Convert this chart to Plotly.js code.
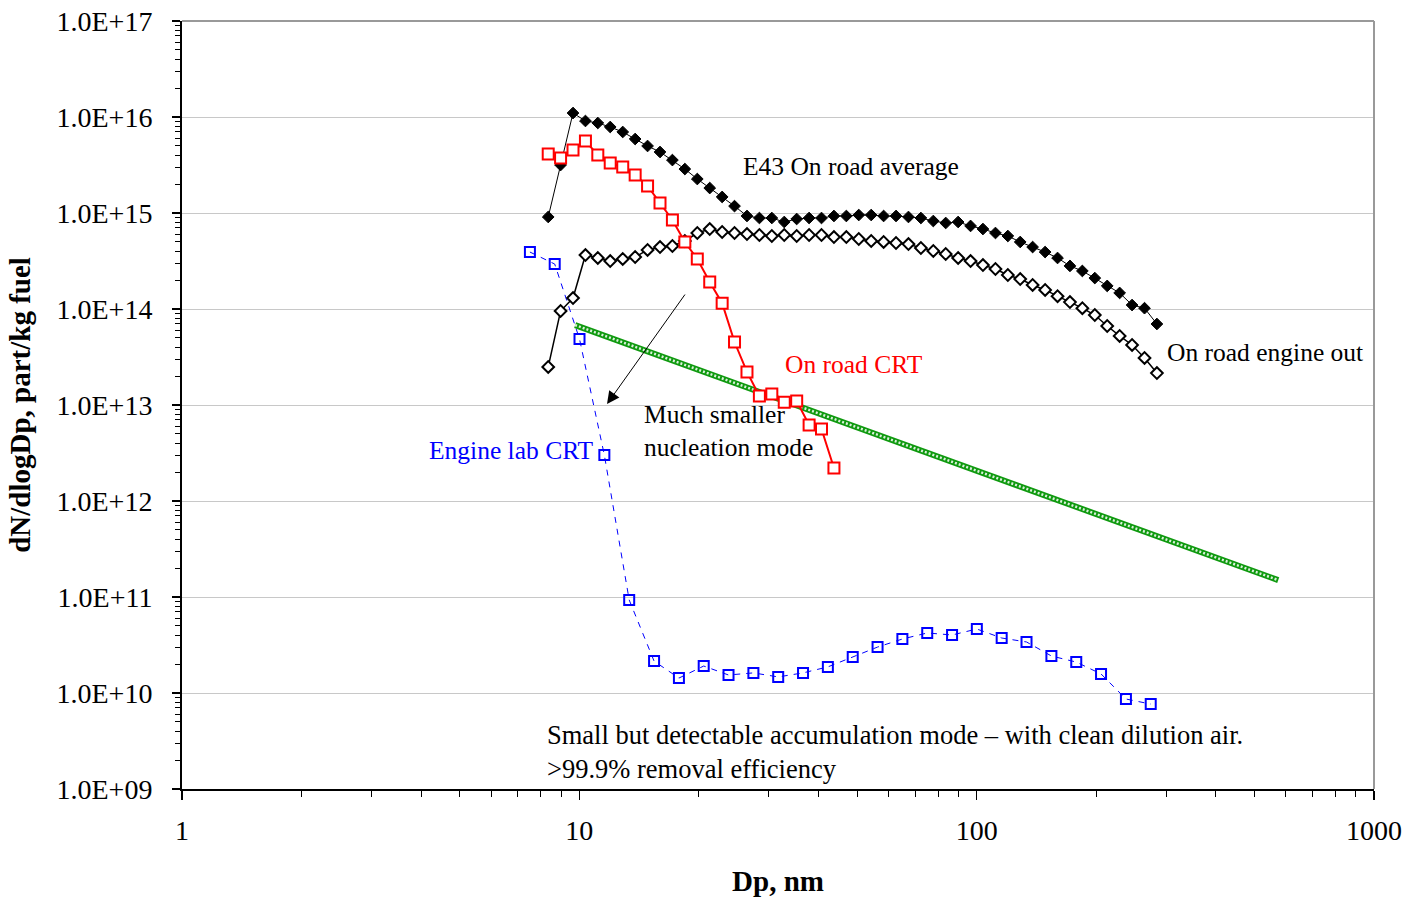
<!DOCTYPE html>
<html>
<head>
<meta charset="utf-8">
<script src="https://cdn.plot.ly/plotly-3.0.1.min.js"></script>
<style>html,body{margin:0;padding:0;background:#fff;}#chart{width:1410px;height:899px;}</style>
</head>
<body>
<div id="chart"></div>
<script>
// ---- Data ----
var dpRoad = [8.35, 8.97, 9.64, 10.36, 11.13, 11.96, 12.86, 13.82, 14.85, 15.96,
  17.15, 18.43, 19.81, 21.29, 22.88, 24.58, 26.42, 28.39, 30.51, 32.79,
  35.24, 37.87, 40.69, 43.73, 46.99, 50.5, 54.27, 58.32, 62.67, 67.35,
  72.38, 77.78, 83.58, 89.82, 96.53, 103.7, 111.5, 119.8, 128.7, 138.3,
  148.7, 159.8, 171.7, 184.5, 198.3, 213.1, 229.0, 246.1, 264.5, 284.2];

var e43Avg = [9.09e14, 3.16e15, 1.10e16, 9.09e15, 8.66e15, 7.87e15, 6.98e15, 5.90e15, 4.99e15, 4.32e15,
  3.56e15, 2.87e15, 2.26e15, 1.82e15, 1.47e15, 1.18e15, 9.31e14, 8.87e14, 8.87e14, 8.06e14,
  8.66e14, 8.87e14, 8.87e14, 9.31e14, 9.31e14, 9.53e14, 9.53e14, 9.31e14, 9.31e14, 9.09e14,
  8.87e14, 8.25e14, 7.87e14, 8.06e14, 7.33e14, 6.81e14, 6.19e14, 5.76e14, 4.99e14, 4.42e14,
  3.92e14, 3.40e14, 2.81e14, 2.49e14, 2.10e14, 1.74e14, 1.47e14, 1.10e14, 1.02e14, 6.98e13];

var engineOut = [2.49e13, 9.53e13, 1.30e14, 3.65e14, 3.40e14, 3.16e14, 3.32e14, 3.48e14, 4.12e14, 4.42e14,
  4.53e14, 5.11e14, 6.19e14, 6.81e14, 6.34e14, 6.19e14, 6.04e14, 5.90e14, 5.76e14, 5.90e14,
  5.76e14, 5.90e14, 5.90e14, 5.62e14, 5.62e14, 5.36e14, 5.11e14, 4.99e14, 4.87e14, 4.75e14,
  4.32e14, 4.02e14, 3.74e14, 3.40e14, 3.16e14, 2.87e14, 2.61e14, 2.26e14, 2.05e14, 1.78e14,
  1.58e14, 1.36e14, 1.18e14, 1.02e14, 8.66e13, 6.65e13, 5.24e13, 4.22e13, 3.09e13, 2.15e13];

var dpRoadCRT = [8.35, 8.97, 9.64, 10.36, 11.13, 11.96, 12.86, 13.82, 14.85, 15.96,
  17.15, 18.43, 19.81, 21.29, 22.88, 24.58, 26.42, 28.39, 30.51, 32.79,
  35.24, 37.87, 40.69, 43.73];
var roadCRT = [4.12e15, 3.74e15, 4.53e15, 5.62e15, 4.02e15, 3.32e15, 3.01e15, 2.49e15, 1.91e15, 1.27e15,
  8.46e14, 4.99e14, 3.32e14, 1.91e14, 1.15e14, 4.53e13, 2.21e13, 1.24e13, 1.30e13, 1.07e13,
  1.10e13, 6.19e12, 5.62e12, 2.21e12];

var dpLab = [7.51, 8.67, 10.01, 11.56, 13.35, 15.42, 17.81, 20.56, 23.74, 27.42,
  31.66, 36.56, 42.22, 48.76, 56.31, 65.02, 75.09, 86.71, 100.1, 115.6,
  133.5, 154.2, 178.1, 205.6, 237.5, 274.2];
var labCRT = [3.92e14, 2.94e14, 4.87e13, 3.01e12, 9.31e10, 2.15e10, 1.43e10, 1.91e10, 1.54e10, 1.62e10,
  1.47e10, 1.62e10, 1.87e10, 2.37e10, 3.01e10, 3.65e10, 4.22e10, 4.02e10, 4.64e10, 3.74e10,
  3.40e10, 2.43e10, 2.10e10, 1.58e10, 8.66e9, 7.67e9];

var trendX = [9.76, 574];
var trendY = [6.8e13, 1.5e11];

var yTickVals = [1e9, 1e10, 1e11, 1e12, 1e13, 1e14, 1e15, 1e16, 1e17];
var yTickText = ["1.0E+09", "1.0E+10", "1.0E+11", "1.0E+12", "1.0E+13", "1.0E+14", "1.0E+15", "1.0E+16", "1.0E+17"];
var xTickVals = [1, 10, 100, 1000];
var xTickText = ["1", "10", "100", "1000"];

var FONT = "Liberation Serif, Times New Roman, serif";

var traces = [
  {x: trendX, y: trendY, mode: 'lines', line: {color: '#109a10', width: 6}, hoverinfo: 'skip', showlegend: false},
  {x: trendX, y: trendY, mode: 'lines', line: {color: '#ffffff', width: 2.5, dash: '2px,2px'}, opacity: 0.85, hoverinfo: 'skip', showlegend: false},
  {x: dpLab, y: labCRT, mode: 'lines+markers', name: 'Engine lab CRT',
   line: {color: '#0000ff', width: 1, dash: '6px,6px'},
   marker: {symbol: 'square-open', size: 10, color: '#0000ff', line: {color: '#0000ff', width: 2}}},
  {x: dpRoad, y: engineOut, mode: 'lines+markers', name: 'On road engine out',
   line: {color: '#000000', width: 1.5},
   marker: {symbol: 'diamond', size: 9, color: '#ffffff', line: {color: '#000000', width: 2}}},
  {x: dpRoad, y: e43Avg, mode: 'lines+markers', name: 'E43 On road average',
   line: {color: '#000000', width: 1},
   marker: {symbol: 'diamond', size: 9, color: '#000000', line: {color: '#000000', width: 1}}},
  {x: dpRoadCRT, y: roadCRT, mode: 'lines+markers', name: 'On road CRT',
   line: {color: '#ff0000', width: 2},
   marker: {symbol: 'square', size: 11, color: '#ffffff', line: {color: '#ff0000', width: 2}}}
];

var annFont = {family: FONT, size: 25.5, color: '#000'};
var layout = {
  width: 1410, height: 899,
  margin: {l: 182, r: 36, t: 21, b: 110},
  paper_bgcolor: '#fff', plot_bgcolor: '#fff',
  showlegend: false,
  font: {family: FONT, size: 28, color: '#000'},
  xaxis: {
    type: 'log', range: [0, 3], automargin: false,
    tickvals: xTickVals, ticktext: xTickText,
    ticks: 'outside', ticklen: 9, tickwidth: 1.5, tickcolor: '#000',
    ticklabelstandoff: 6,
    minor: {ticks: 'outside', ticklen: 6, tickcolor: '#000', tickwidth: 1, dtick: 'D1', showgrid: false},
    showgrid: false, zeroline: false,
    showline: true, linecolor: '#000', linewidth: 2,
    tickfont: {family: FONT, size: 28, color: '#000'},
    title: {text: '<b>Dp, nm</b>', font: {family: FONT, size: 29, color: '#000'}, standoff: 26}
  },
  yaxis: {
    type: 'log', range: [9, 17], automargin: false,
    tickvals: yTickVals, ticktext: yTickText,
    ticks: 'outside', ticklen: 8, tickwidth: 1.5, tickcolor: '#000',
    ticklabelstandoff: 14,
    minor: {ticks: 'outside', ticklen: 5, tickcolor: '#000', tickwidth: 1, dtick: 'D1', showgrid: false},
    showgrid: true, gridcolor: '#c8c8c8', gridwidth: 1, zeroline: false,
    showline: true, linecolor: '#000', linewidth: 2,
    tickfont: {family: FONT, size: 28, color: '#000'},
    title: {text: '<b>dN/dlogDp, part/kg fuel</b>', font: {family: FONT, size: 29, color: '#000'}, standoff: 17}
  },
  shapes: [
    {type: 'line', xref: 'paper', yref: 'paper', x0: 0, x1: 1, y0: 1, y1: 1, line: {color: '#999', width: 2}},
    {type: 'line', xref: 'paper', yref: 'paper', x0: 1, x1: 1, y0: 0, y1: 1, line: {color: '#999', width: 2}}
  ],
  annotations: [
    {xref: 'paper', yref: 'paper', x: 0.4690, y: 0.8099, xanchor: 'left', yanchor: 'middle', showarrow: false, text: 'E43 On road average', font: annFont},
    {xref: 'paper', yref: 'paper', x: 0.8247, y: 0.5690, xanchor: 'left', yanchor: 'middle', showarrow: false, text: 'On road engine out', font: annFont},
    {xref: 'paper', yref: 'paper', x: 0.5042, y: 0.5521, xanchor: 'left', yanchor: 'middle', showarrow: false, text: 'On road CRT', font: {family: FONT, size: 25.5, color: '#ff0000'}},
    {xref: 'paper', yref: 'paper', x: 0.3859, y: 0.4661, xanchor: 'left', yanchor: 'middle', align: 'left', showarrow: false, text: 'Much smaller<br>nucleation mode', font: annFont},
    {xref: 'paper', yref: 'paper', x: 0.2055, y: 0.4414, xanchor: 'left', yanchor: 'middle', showarrow: false, text: 'Engine lab CRT', font: {family: FONT, size: 25.5, color: '#0000ff'}},
    {xref: 'paper', yref: 'paper', x: 0.3045, y: 0.0488, xanchor: 'left', yanchor: 'middle', align: 'left', showarrow: false, text: 'Small but detectable accumulation mode – with clean dilution air.<br>>99.9% removal efficiency', font: {family: FONT, size: 26.5, color: '#000'}},
    {xref: 'x', yref: 'y', x: 1.0697, y: 13.010, ax: 79, ay: -111, text: '', showarrow: true, arrowhead: 2, arrowsize: 2.5, arrowwidth: 1, arrowcolor: '#000'}
  ]
};

Plotly.newPlot('chart', traces, layout, {staticPlot: true, displayModeBar: false});
</script>
</body>
</html>
